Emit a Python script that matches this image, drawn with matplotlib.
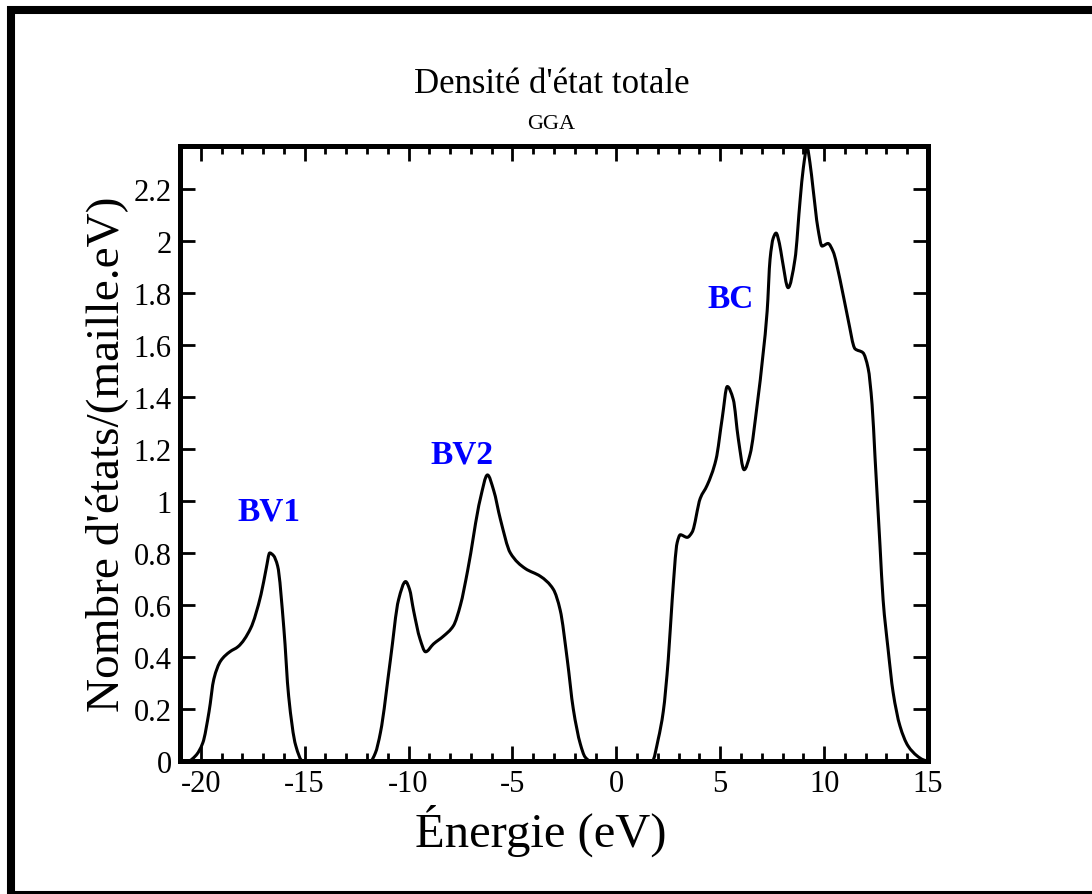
import numpy as np
import matplotlib
matplotlib.use('Agg')
import matplotlib.pyplot as plt
from matplotlib.patches import Rectangle, PathPatch
from matplotlib.path import Path
from matplotlib.ticker import MultipleLocator, FuncFormatter

plt.rcParams['font.family'] = ['Liberation Serif', 'DejaVu Serif']
plt.rcParams['axes.unicode_minus'] = False

# total DOS, read band by band (energy in eV, states per cell.eV)
energy = [-21.0, -20.6, -20.25, -19.9, -19.6, -19.37, -19.04, -18.6, -18.2, -17.6,
          -17.1, -16.85, -16.68, -16.5, -16.3, -16.0, -15.77, -15.43, -15.1,
          -12.2, -11.83, -11.6, -11.35, -10.87, -10.48, -10.14, -9.95, -9.76,
          -9.45, -9.18, -8.8, -8.32, -7.84, -7.5, -7.16, -6.54, -6.2, -5.9,
          -5.58, -5.1, -4.38, -3.65, -3.03, -2.7, -2.36, -2.07, -1.73, -1.5, -1.25,
          1.5, 1.73, 2.02, 2.26, 2.5, 2.69, 2.93, 3.08, 3.41, 3.65, 4.04, 4.37,
          4.8, 5.1, 5.34, 5.63, 5.87, 6.15, 6.44, 6.78, 7.07, 7.26, 7.4, 7.55,
          7.69, 7.85, 7.98, 8.27, 8.6, 8.85, 9.0, 9.18, 9.32, 9.47, 9.7, 9.9,
          10.19, 10.43, 10.77, 11.15, 11.49, 11.87, 12.12, 12.31, 12.45, 12.69,
          12.84, 13.08, 13.32, 13.65, 14.04, 14.47, 14.76, 15.0]
dos = [0.0, 0.0, 0.02, 0.07, 0.19, 0.315, 0.385, 0.42, 0.44, 0.51,
       0.64, 0.74, 0.80, 0.79, 0.75, 0.51, 0.25, 0.06, 0.0,
       0.0, 0.0, 0.03, 0.11, 0.39, 0.62, 0.69, 0.66, 0.58,
       0.47, 0.42, 0.45, 0.48, 0.52, 0.6, 0.73, 1.01, 1.10, 1.04,
       0.93, 0.80, 0.74, 0.71, 0.66, 0.58, 0.39, 0.2, 0.065, 0.015, 0.0,
       0.0, 0.0, 0.085, 0.19, 0.39, 0.62, 0.84, 0.87, 0.86, 0.88, 1.01, 1.06,
       1.16, 1.32, 1.44, 1.39, 1.24, 1.12, 1.18, 1.37, 1.57, 1.73, 1.93, 2.01,
       2.03, 1.99, 1.93, 1.82, 1.93, 2.16, 2.28, 2.36, 2.30, 2.20, 2.05, 1.98,
       1.99, 1.96, 1.85, 1.70, 1.585, 1.57, 1.51, 1.37, 1.17, 0.83,
       0.62, 0.43, 0.265, 0.135, 0.058, 0.02, 0.005, 0.0]

band_labels = ['BV1', 'BV2', 'BC']
band_x = [-16.7, -7.45, 5.48]
band_y = [0.96, 1.18, 1.78]


def smooth_path(x, y):
    # cubic Bezier through every point, monotone (Fritsch-Carlson) slopes
    x = np.asarray(x, float)
    y = np.asarray(y, float)
    h = np.diff(x)
    d = np.diff(y) / h
    m = np.zeros_like(y)
    for i in range(1, len(y) - 1):
        if d[i - 1] * d[i] > 0:
            w1 = 2 * h[i] + h[i - 1]
            w2 = h[i] + 2 * h[i - 1]
            m[i] = (w1 + w2) / (w1 / d[i - 1] + w2 / d[i])
    verts = [(x[0], y[0])]
    codes = [Path.MOVETO]
    for i in range(len(x) - 1):
        verts += [(x[i] + h[i] / 3, y[i] + m[i] * h[i] / 3),
                  (x[i + 1] - h[i] / 3, y[i + 1] - m[i + 1] * h[i] / 3),
                  (x[i + 1], y[i + 1])]
        codes += [Path.CURVE4] * 3
    return Path(verts, codes)


fig = plt.figure(figsize=(10.92, 8.95), dpi=100)
ax = fig.add_axes([0.1648, 0.1486, 0.685, 0.6872])

ax.add_patch(PathPatch(smooth_path(energy, dos), facecolor='none',
                       edgecolor='black', lw=2.2, joinstyle='round'))

for lab, bx, by in zip(band_labels, band_x, band_y):
    ax.text(bx, by, lab, color='#0000ff', fontsize=24, fontweight='bold',
            ha='center', va='center')

ax.set_xlim(-21, 15)
ax.set_ylim(0, 2.365)
ax.xaxis.set_major_locator(MultipleLocator(5))
ax.xaxis.set_minor_locator(MultipleLocator(1))
ax.yaxis.set_major_locator(MultipleLocator(0.2))
ax.yaxis.set_major_formatter(FuncFormatter(lambda v, p: '%g' % round(v, 2)))

ax.tick_params(which='both', direction='in', top=True, right=True, labelsize=22)
ax.tick_params(which='major', length=11, width=2)
ax.tick_params(which='minor', length=6, width=2)
ax.tick_params(axis='x', pad=6)
ax.tick_params(axis='y', pad=6)
for sp in ax.spines.values():
    sp.set_linewidth(3.6)

fig.text(0.505, 0.906, "Densité d'état totale", fontsize=25, ha='center', va='center')
fig.text(0.505, 0.861, 'GGA', fontsize=16, ha='center', va='center')
fig.text(0.495, 0.072, 'Énergie (eV)', fontsize=35, ha='center', va='center')
fig.text(0.098, 0.492, "Nombre d'états/(maille.eV)", fontsize=34, ha='center',
         va='center', rotation=90)

# outer frame around the whole panel
fig.patches.append(Rectangle((10.5 / 1092, -1.0 / 895), 1.2, (884.5 + 1.0) / 895,
                             transform=fig.transFigure, fill=False,
                             edgecolor='black', lw=5.8, clip_on=False))

fig.savefig('out.png', dpi=100)
